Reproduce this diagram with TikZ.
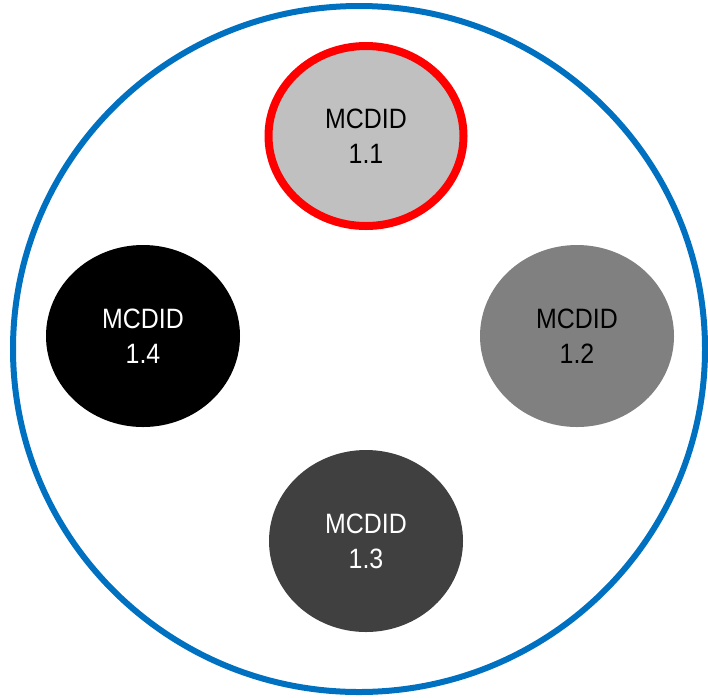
\documentclass[tikz,border=0pt]{standalone}
\usepackage{fontspec}
\newfontfamily\narrowsans[FakeStretch=0.89]{Liberation Sans}
\usetikzlibrary{shapes.geometric}
\definecolor{ringblue}{HTML}{0070C0}
\begin{document}
\begin{tikzpicture}[x=1pt,y=-1pt,
    mcd/.style={ellipse,inner sep=0pt,minimum width=194pt,minimum height=182pt,
      align=center,font=\narrowsans\fontsize{28}{35}\selectfont}]
      \useasboundingbox (0,0) rectangle (708,697);
      \draw[ringblue,line width=6pt] (359,349) ellipse [x radius=346,y radius=343];
      \draw
        (366,136) node[mcd,fill={rgb,255:red,192;green,192;blue,192},draw=red,line width=8pt,
          minimum width=195pt,minimum height=180pt] (m11){MCDID\\1.1}
        (577,336) node[mcd,fill={rgb,255:red,128;green,128;blue,128}] (m12){MCDID\\1.2}
        (366,541) node[mcd,fill={rgb,255:red,64;green,64;blue,64},text=white] (m13){MCDID\\1.3}
        (143,336) node[mcd,fill=black,text=white] (m14){MCDID\\1.4};
    \end{tikzpicture}
\end{document}
